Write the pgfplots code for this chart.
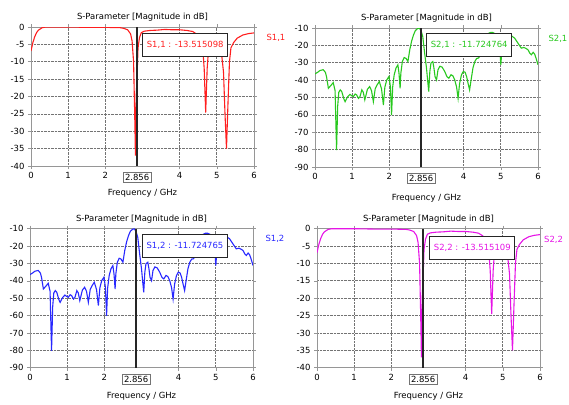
\documentclass[border=0pt]{standalone}
\usepackage{fontspec}
\setmainfont{DejaVu Sans}
\usepackage{pgfplots}
\pgfplotsset{compat=1.18}

\definecolor{sred}{RGB}{255,30,30}
\definecolor{sgreen}{RGB}{40,200,30}
\definecolor{sblue}{RGB}{40,40,255}
\definecolor{smag}{RGB}{230,20,230}
\definecolor{frame}{RGB}{150,150,150}

\newcommand{\sz}{\fontsize{8.5}{10}\selectfont}

% reflection (S1,1 / S2,2)
\pgfplotstableread{
x y
0 -6.9
0.05 -4.5
0.1 -2.8
0.15 -1.6
0.2 -0.9
0.3 -0.2
0.4 0
1.0 0
1.5 -0.1
2.0 -0.1
2.4 -0.2
2.5 -0.4
2.6 -0.8
2.68 -2
2.72 -4
2.76 -10
2.79 -25
2.81 -37
2.83 -20
2.856 -13.5
2.88 -6
2.92 -3
2.97 -1.6
3.05 -1.2
3.2 -1.0
3.4 -0.9
3.6 -0.7
3.8 -0.8
4.0 -0.8
4.2 -1.0
4.35 -1.3
4.45 -2.0
4.55 -3
4.62 -6
4.66 -12
4.70 -24.6
4.74 -12
4.78 -6
4.85 -4
4.95 -3.8
5.05 -4.5
5.12 -7
5.18 -13
5.22 -25
5.26 -35
5.30 -22
5.34 -10
5.38 -6
5.45 -4.5
5.55 -3.2
5.7 -2.3
5.85 -1.9
6.0 -1.7
}\refl

% transmission (S2,1 / S1,2)
\pgfplotstableread{
x y
0 -36.4
0.07 -35.5
0.13 -34.5
0.22 -34
0.28 -35.5
0.31 -38
0.36 -44.7
0.43 -43
0.49 -41.4
0.54 -46
0.58 -80.3
0.61 -55
0.64 -47
0.68 -45.6
0.72 -46.6
0.78 -51
0.81 -52.4
0.88 -49.5
0.94 -48.2
0.99 -49
1.03 -49.5
1.08 -48
1.12 -48.5
1.17 -50.5
1.21 -49.5
1.26 -45.6
1.30 -47
1.34 -51.4
1.41 -45.3
1.47 -43.7
1.52 -46
1.57 -52.4
1.62 -45
1.67 -42.8
1.73 -40.8
1.79 -45
1.84 -54.3
1.88 -44
1.93 -39.9
1.99 -37.9
2.03 -44
2.06 -60.1
2.09 -44
2.13 -37
2.18 -33
2.23 -31.2
2.26 -36
2.29 -44.7
2.31 -36
2.35 -29.3
2.40 -27
2.45 -27.5
2.50 -29.3
2.55 -22.5
2.60 -17.5
2.65 -14
2.70 -11.5
2.76 -10.3
2.81 -10.1
2.856 -11.72
2.90 -15
2.95 -24.5
3.00 -33
3.03 -40
3.06 -46.6
3.09 -35
3.12 -30.2
3.17 -29.3
3.20 -33
3.23 -38
3.27 -39.9
3.31 -34
3.36 -32
3.42 -32.5
3.49 -35
3.55 -38
3.60 -38.9
3.66 -36.9
3.71 -37.5
3.76 -39.9
3.81 -44
3.85 -50.5
3.89 -42
3.94 -37
3.99 -35
4.04 -35.5
4.08 -38
4.12 -42
4.16 -45.6
4.20 -39.9
4.25 -33
4.30 -29.3
4.35 -27.5
4.40 -27.3
4.45 -25.5
4.50 -23
4.55 -19
4.60 -15
4.66 -13.2
4.72 -12.6
4.78 -12.6
4.84 -13.2
4.90 -14.5
4.95 -18
4.98 -25
5.00 -31.2
5.02 -25
5.06 -18
5.12 -14.5
5.20 -13.5
5.28 -14.4
5.37 -15.8
5.46 -18.7
5.55 -21.6
5.62 -21.2
5.68 -21.8
5.73 -22.5
5.78 -24.5
5.82 -25.4
5.87 -24
5.91 -25
5.95 -27.5
6.00 -31.2
}\trans

\pgfplotsset{
  spar/.style={
    scale only axis, width=223bp, height=139bp,
    xmin=0, xmax=6, xtick={0,1,2,4,5,6},
    clip mode=individual,
    grid=major,
    major grid style={densely dotted, black!55, line width=0.7bp},
    axis line style={frame, line width=0.8bp},
    tick style={frame, line width=0.6bp},
    tick align=outside, major tick length=3bp,
    ticklabel style={font=\sz},
    /pgf/number format/assume math mode=true,
    title={S-Parameter [Magnitude in dB]},
    title style={font=\sz, at={(0.5,1)}, anchor=center, yshift=3.5bp},
    xlabel={Frequency / GHz},
    xlabel style={font=\sz, at={(0.5,0)}, anchor=center},
    every axis plot/.append style={line width=1.1bp, mark=none},
  },
  refl/.style={spar, ymin=-40, ymax=0, ytick={-40,-35,...,0}},
  trans/.style={spar, ymin=-90, ymax=-10, ytick={-90,-80,...,-10}},
}
\tikzset{
  ann/.style={draw=black!85, line width=1.2bp, fill=white, font=\sz,
    minimum width=85bp, minimum height=23bp, inner sep=1bp},
  mk/.style={draw=black!55, line width=0.8bp, fill=white, font=\sz,
    inner sep=2bp, anchor=north, yshift=-6bp},
}

\begin{document}
\begin{tikzpicture}
\useasboundingbox (0,0) rectangle (569bp,-405bp);

% top left: S1,1
\begin{axis}[refl, at={(31bp,-166bp)}, anchor=south west,
  xlabel style={yshift=-27bp}]
  \addplot[sred] table {\refl};
  \addplot[black!85, line width=1.4bp] coordinates {(2.856,-40) (2.856,0)};
  \node[ann, text=sred] at (axis cs:4.15,-5.2) {S1,1 : -13.515098};
  \node[mk] at (axis cs:2.856,-40) {2.856};
  \node[anchor=west, text=sred, font=\sz, xshift=9bp] at (axis cs:6,-3.2) {S1,1};
\end{axis}

% top right: S2,1
\begin{axis}[trans, at={(315bp,-167bp)}, anchor=south west,
  xlabel style={yshift=-31bp}]
  \addplot[sgreen] table {\trans};
  \addplot[black!85, line width=1.4bp] coordinates {(2.856,-90) (2.856,-10)};
  \node[ann, text=sgreen] at (axis cs:4.15,-19.9) {S2,1 : -11.724764};
  \node[mk] at (axis cs:2.856,-90) {2.856};
  \node[anchor=west, text=sgreen, font=\sz, xshift=7bp] at (axis cs:6,-16.2) {S2,1};
\end{axis}

% bottom left: S1,2
\begin{axis}[trans, at={(30bp,-367.7bp)}, anchor=south west,
  xlabel style={yshift=-29bp}]
  \addplot[sblue] table {\trans};
  \addplot[black!85, line width=1.4bp] coordinates {(2.856,-90) (2.856,-10)};
  \node[ann, text=sblue] at (axis cs:4.17,-20.0) {S1,2 : -11.724765};
  \node[mk] at (axis cs:2.856,-90) {2.856};
  \node[anchor=west, text=sblue, font=\sz, xshift=9bp] at (axis cs:6,-15.6) {S1,2};
\end{axis}

% bottom right: S2,2
\begin{axis}[refl, at={(317bp,-367.7bp)}, anchor=south west,
  xlabel style={yshift=-29bp}]
  \addplot[smag] table {\refl};
  \addplot[black!85, line width=1.4bp] coordinates {(2.856,-40) (2.856,0)};
  \node[ann, text=smag] at (axis cs:4.18,-5.6) {S2,2 : -13.515109};
  \node[mk] at (axis cs:2.856,-40) {2.856};
  \node[anchor=west, text=smag, font=\sz, xshift=3bp, inner sep=1bp] at (axis cs:6,-3.1) {S2,2};
\end{axis}
\end{tikzpicture}
\end{document}
